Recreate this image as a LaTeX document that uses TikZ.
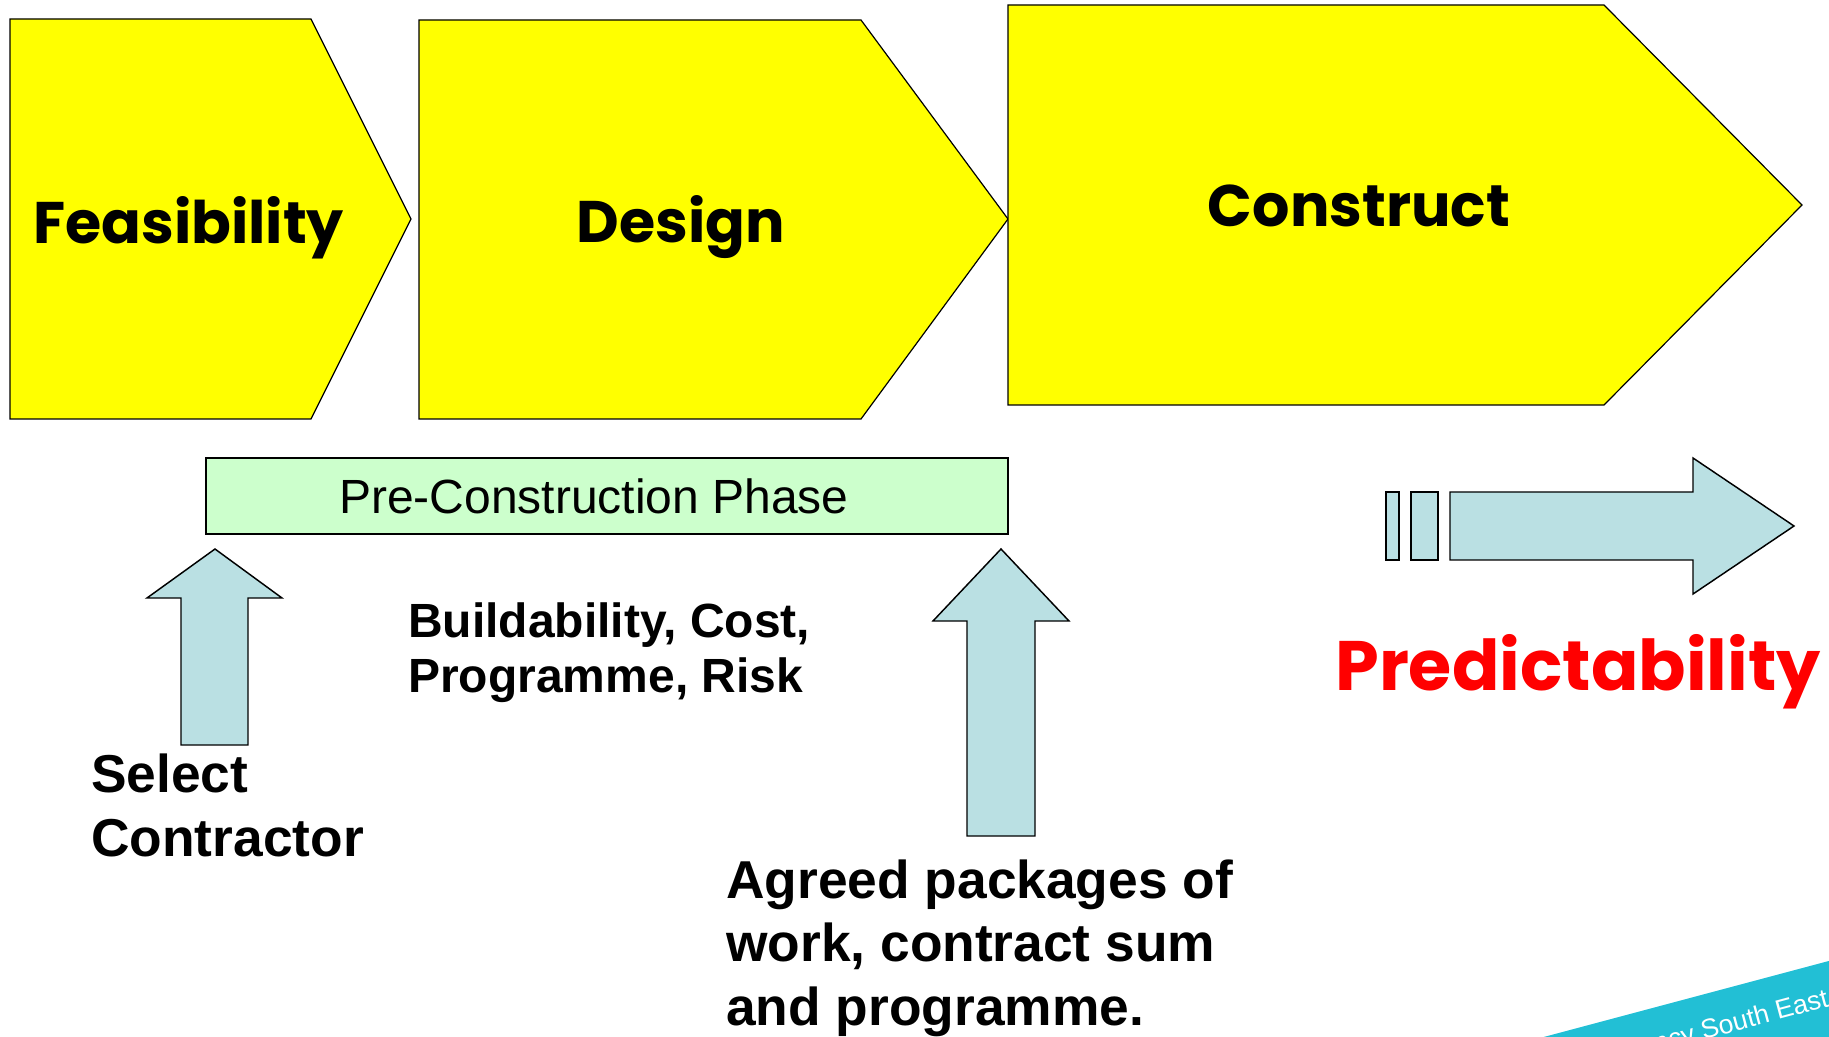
\documentclass[tikz,border=0pt]{standalone}
\usepackage{fontspec}
\setmainfont{Liberation Sans}
\newfontfamily\comicfont{Poppins}
\usepackage{tikz}
\usetikzlibrary{positioning}
\definecolor{phaseYellow}{HTML}{FFFF00}
\definecolor{preconGreen}{HTML}{CCFFCC}
\definecolor{arrowBlue}{HTML}{BAE0E3}
\definecolor{bannerCyan}{HTML}{22BFD5}

\begin{document}
\begin{tikzpicture}[
  x=0.75pt, y=-0.75pt,
  phase/.style={draw=black, fill=phaseYellow, line width=0.9pt},
  phasetxt/.style={font=\comicfont\bfseries\fontsize{44}{48}\selectfont,
                   inner sep=0pt, anchor=base},
  preconbox/.style={draw=black, fill=preconGreen, line width=0.9pt},
  blockarr/.style={draw=black, fill=arrowBlue, line width=1.1pt},
  notetxt/.style={font=\bfseries\fontsize{40}{47.5}\selectfont,
                  align=left, inner sep=0pt, anchor=base west}
]
\useasboundingbox (0,0) rectangle (1829,1037);

% project stages
\draw[phase] (10,19) -- (311,19) -- (411,219) -- (311,419) -- (10,419) -- cycle;
\draw[phase] (419,20) -- (861,20) -- (1008,219) -- (861,419) -- (419,419) -- cycle;
\draw[phase] (1008,5) -- (1604,5) -- (1802,205) -- (1604,405) -- (1008,405) -- cycle;
\node[phasetxt, anchor=base west] (feas) at (33,244) {Feasibility};
\node[phasetxt] (design) at (681,243) {Design};
\node[phasetxt] (constr) at (1359,227) {Construct};

% pre-construction bar
\draw[preconbox] (206,458) rectangle (1008,534);
\node[anchor=base, inner sep=0pt, font=\fontsize{36}{40}\selectfont] (precon) at (594,514)
  {Pre-Construction Phase};

% block arrows
\draw[blockarr] (215,549) -- (282,598) -- (248,598) -- (248,745) -- (181,745)
  -- (181,598) -- (147,598) -- cycle;
\draw[blockarr] (1001,549) -- (1069,621) -- (1035,621) -- (1035,836) -- (967,836)
  -- (967,621) -- (933,621) -- cycle;
\draw[blockarr] (1386,492) rectangle (1399,560);
\draw[blockarr] (1411,492) rectangle (1438,560);
\draw[blockarr] (1450,492) -- (1693,492) -- (1693,458) -- (1794,526) -- (1693,594)
  -- (1693,560) -- (1450,560) -- cycle;

% notes (anchored on the last line)
\node[notetxt, font=\bfseries\fontsize{36}{41.25}\selectfont] (build) at (408,692)
  {Buildability, Cost,\\Programme, Risk};
\node[notetxt, font=\bfseries\fontsize{40}{48}\selectfont] (select) at (91,856)
  {Select\\Contractor};
\node[notetxt] (agreed) at (726,1025)
  {Agreed packages of\\work, contract sum\\and programme.};
\node[phasetxt, text=red, font=\comicfont\bfseries\fontsize{52.5}{58}\selectfont]
  (predict) at (1578,690) {Predictability};

% corner banner
\begin{scope}
  \clip (0,0) rectangle (1829,1037);
  \fill[bannerCyan] (1450,1062) -- (1900,942) -- (1930,1060) -- (1480,1180) -- cycle;
  \node[rotate=15, anchor=base east, inner sep=0pt, text=white,
        font=\fontsize{20}{24}\selectfont] (agency) at (1830,1006) {Agency South East};
\end{scope}
\end{tikzpicture}
\end{document}
